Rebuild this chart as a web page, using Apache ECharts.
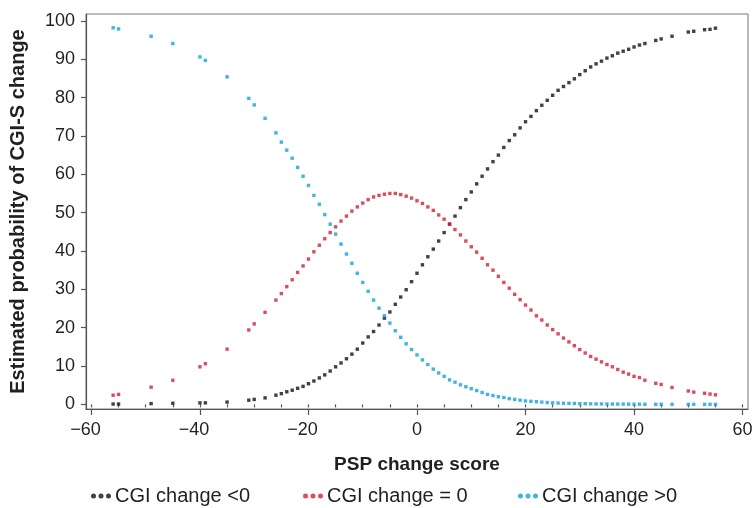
<!DOCTYPE html>
<html><head><meta charset="utf-8">
<script src="https://cdn.jsdelivr.net/npm/echarts@6/dist/echarts.min.js"></script>
<style>html,body{margin:0;padding:0;background:#fff}#c{width:756px;height:508px}</style>
</head><body><div id="c"></div>
<script>
const xValues = [-56,-55,-49,-45,-40,-39,-35,-31,-30,-28,
-26,-25,-24,-23,-22,-21,-20,-19,-18,-17,
-16,-15,-14,-13,-12,-11,-10,-9,-8,-7,
-6,-5,-4,-3,-2,-1,0,1,2,3,
4,5,6,7,8,9,10,11,12,13,
14,15,16,17,18,19,20,21,22,23,
24,25,26,27,28,29,30,31,32,33,
34,35,36,37,38,39,40,41,42,44,
45,47,50,51,53,54,55];
const probLess = [0.1,0.1,0.2,0.3,0.4,0.4,0.6,1.1,1.3,1.7,
2.4,2.8,3.3,3.7,4.2,4.7,5.4,6.1,6.9,7.7,
8.7,9.8,10.8,11.9,13.1,14.4,16.0,17.6,19.0,20.7,
22.5,24.1,26.1,28.0,29.9,32.0,34.2,36.4,38.5,40.5,
42.6,44.8,47.0,49.1,51.3,53.4,55.4,57.5,59.5,61.4,
63.3,65.0,67.0,68.8,70.3,72.1,73.7,75.1,76.6,78.0,
79.3,80.6,81.9,82.9,83.9,84.9,86.0,87.0,88.0,88.8,
89.5,90.3,90.9,91.6,92.1,92.6,93.2,93.7,94.1,94.9,
95.3,96.0,97.1,97.3,97.7,97.8,98.1];
const probZero = [2.4,2.6,4.5,6.3,9.8,10.6,14.4,19.4,21.0,24.0,
27.2,28.9,30.7,32.5,34.4,36.1,37.9,39.8,41.5,43.2,
44.8,46.3,47.8,49.1,50.4,51.5,52.5,53.4,54.1,54.5,
54.8,55.0,55.0,54.7,54.3,53.8,53.1,52.4,51.5,50.6,
49.4,48.3,47.0,45.6,44.2,42.6,41.1,39.7,38.1,36.4,
35.0,33.4,31.8,30.3,28.7,27.3,25.9,24.6,23.1,22.0,
20.7,19.5,18.4,17.3,16.3,15.3,14.3,13.4,12.5,11.8,
11.1,10.4,9.8,9.1,8.4,7.9,7.3,7.0,6.3,5.5,
5.2,4.4,3.5,3.2,2.9,2.7,2.5];
const probMore = [98.2,97.9,96.0,94.1,90.6,89.7,85.4,79.8,78.1,74.6,
70.8,68.4,66.3,64.2,61.8,59.5,57.1,54.5,52.2,49.5,
47.0,44.4,41.8,39.2,36.8,34.2,31.8,29.5,27.2,25.1,
23.1,21.2,19.2,17.5,15.8,14.3,12.9,11.6,10.4,9.2,
8.2,7.3,6.4,5.8,5.1,4.6,4.1,3.6,3.1,2.6,
2.3,2.0,1.8,1.5,1.3,1.1,0.9,0.8,0.7,0.6,
0.5,0.4,0.35,0.3,0.27,0.24,0.2,0.18,0.15,0.13,
0.12,0.1,0.09,0.08,0.07,0.06,0.05,0.05,0.04,0.03,
0.03,0.02,0.01,0.01,0.01,0.01,0.0];
const seriesNames = ['CGI change <0', 'CGI change = 0', 'CGI change >0'];
const xMajorTicks = [-60,-40,-20,0,20,40,60];
const xMinorTicks = [-60,-55,-50,-45,-40,-35,-30,-25,-20,-15,-10,-5,0,5,10,15,20,25,30,35,40,45,50,55,60];
const yTicks = [0,10,20,30,40,50,60,70,80,90,100];

const colors = ['#111111', '#d21f37', '#12a1d8'];
const txt = '#231f20';
const font = 'Liberation Sans, Arial, sans-serif';
const pair = ys => xValues.map((x, i) => [x, ys[i]]);
const dots = 'path://M2,0A2,2 0 1,1 2,4A2,2 0 1,1 2,0ZM8,0A2,2 0 1,1 8,4A2,2 0 1,1 8,0ZM14,0A2,2 0 1,1 14,4A2,2 0 1,1 14,0Z';
const xLabel = v => v < 0 ? '{n|\u2212' + (-v) + '}' : String(v);

const chart = echarts.init(document.getElementById('c'), null, {renderer: 'canvas'});
const legendLefts = [86, 298, 513];
chart.setOption({
  animation: false,
  backgroundColor: '#fff',
  grid: {left: 85, right: 8, top: 14, bottom: 99, show: true, borderColor: '#777', borderWidth: 1},
  legend: seriesNames.map((n, i) => ({
    data: [{name: n, icon: dots}], left: legendLefts[i], top: 481,
    itemWidth: 20, itemHeight: 5, itemGap: 0,
    textStyle: {fontSize: 20, color: txt, fontFamily: font, padding: [0,0,0,-1]}
  })),
  xAxis: [{
    type: 'value', min: -61, max: 61,
    name: 'PSP change score', nameLocation: 'middle', nameGap: 46,
    nameTextStyle: {fontSize: 19, fontWeight: 'bold', color: txt, fontFamily: font},
    axisLine: {onZero: false, lineStyle: {color: '#555', width: 1.2}},
    axisTick: {customValues: xMajorTicks, length: 6, lineStyle: {color: '#555', width: 1.2}},
    axisLabel: {customValues: xMajorTicks, formatter: xLabel, fontSize: 18, color: txt, fontFamily: font, margin: 12,
      rich: {n: {fontSize: 18, color: txt, fontFamily: font, padding: [0, 12, 0, 0]}}},
    splitLine: {show: false}
  }, {
    type: 'value', min: -61, max: 61, position: 'bottom',
    axisLine: {show: false},
    axisTick: {customValues: xMinorTicks, length: 3, lineStyle: {color: '#555', width: 1.2}},
    axisLabel: {show: false}, splitLine: {show: false}
  }],
  yAxis: {
    type: 'value', min: -1.2, max: 101.8,
    name: 'Estimated probability of CGI-S change', nameLocation: 'middle', nameGap: 58,
    nameTextStyle: {fontSize: 20, fontWeight: 'bold', color: txt, fontFamily: font},
    axisLine: {onZero: false, lineStyle: {color: '#555', width: 1.2}},
    axisTick: {customValues: yTicks, length: 5, lineStyle: {color: '#555', width: 1.2}},
    axisLabel: {customValues: yTicks, fontSize: 18, color: txt, fontFamily: font, margin: 11},
    splitLine: {show: false}
  },
  series: [probLess, probZero, probMore].map((ys, i) => ({
    name: seriesNames[i], type: 'scatter', data: pair(ys),
    symbol: 'rect', symbolSize: 3.4, itemStyle: {color: colors[i]}
  }))
});
</script></body></html>
